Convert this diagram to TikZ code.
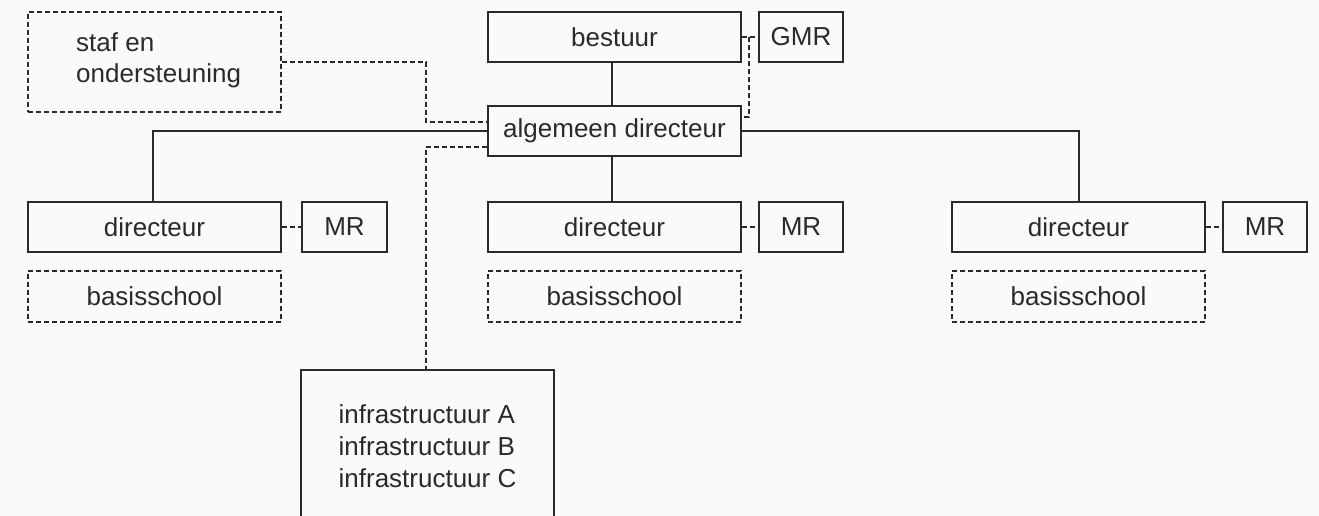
\documentclass[tikz,border=0pt]{standalone}
\usepackage{fontspec}
\setmainfont{Liberation Sans}
\definecolor{ink}{HTML}{2A2A2A}
\definecolor{bg}{HTML}{F9FAF9}
\begin{document}
\begin{tikzpicture}[x=1pt,y=-1pt,
 box/.style={draw=ink, line width=1.8pt, rectangle, inner sep=0pt, text=ink, font=\fontsize{26pt}{32pt}\selectfont},
 dbox/.style={box, dash pattern=on 5pt off 3pt},
 txt/.style={inner sep=0pt, text=ink, font=\fontsize{26pt}{31pt}\selectfont, align=left},
 conn/.style={draw=ink, line width=1.8pt},
 dconn/.style={conn, dash pattern=on 5pt off 3pt}]
\fill[bg] (0,0) rectangle (1319,516);
\useasboundingbox (0,0) rectangle (1319,516);

\node[box, minimum width=253pt, minimum height=50pt] (bestuur) at (614.5,37) {bestuur};
\node[box, minimum width=84pt, minimum height=50pt] (gmr) at (801,37) {GMR};
\node[box, minimum width=253pt, minimum height=50pt] (ad) at (614.5,131) {algemeen directeur};

\node[dbox, minimum width=253pt, minimum height=100pt] (staf) at (154.5,62) {};
\node[txt, anchor=west] (staftext) at (76,60) {staf en\\ondersteuning};

\node[box, minimum width=253pt, minimum height=50pt] (dir1) at (154.5,227) {directeur};
\node[box, minimum width=85pt, minimum height=50pt] (mr1) at (344.5,227) {MR};
\node[box, minimum width=253pt, minimum height=50pt] (dir2) at (614.5,227) {directeur};
\node[box, minimum width=84pt, minimum height=50pt] (mr2) at (801,227) {MR};
\node[box, minimum width=253pt, minimum height=50pt] (dir3) at (1078.5,227) {directeur};
\node[box, minimum width=84pt, minimum height=50pt] (mr3) at (1265,227) {MR};

\node[dbox, minimum width=253pt, minimum height=51pt] (bs1) at (154.5,296.5) {basisschool};
\node[dbox, minimum width=253pt, minimum height=51pt] (bs2) at (614.5,296.5) {basisschool};
\node[dbox, minimum width=253pt, minimum height=51pt] (bs3) at (1078.5,296.5) {basisschool};

\node[box, minimum width=253pt, minimum height=152pt, align=left] (infra) at (427.5,446)
  {infrastructuur A\\infrastructuur B\\infrastructuur C};

% solid connectors
\draw[conn] ([xshift=-2.5pt]bestuur.south) -- ([xshift=-2.5pt]ad.north);
\draw[conn] ([xshift=-2.5pt]ad.south) -- ([xshift=-2.5pt]dir2.north);
\draw[conn] (ad.west) -| ([xshift=-1.5pt]dir1.north);
\draw[conn] (ad.east) -| ([xshift=0.5pt]dir3.north);

% dashed connectors
\draw[dconn] (dir1.east) -- (mr1.west);
\draw[dconn] (dir2.east) -- (mr2.west);
\draw[dconn] (dir3.east) -- (mr3.west);
\draw[dconn] (bestuur.east) -- (gmr.west);
\coordinate (gj) at (749,37);
\draw[dconn] (gj) |- ([yshift=14pt]ad.east);
\coordinate (sj) at (426,62);
\draw[dconn] (staf.east) -- (sj) |- ([yshift=9pt]ad.west);
\draw[dconn] ([yshift=-16pt]ad.west) -| ([xshift=-1.5pt]infra.north);
\end{tikzpicture}
\end{document}
